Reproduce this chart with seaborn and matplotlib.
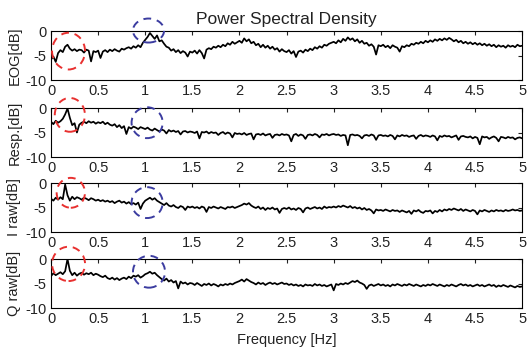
import numpy as np
import matplotlib
matplotlib.use('Agg')
import matplotlib.pyplot as plt
from matplotlib.patches import Ellipse
import seaborn as sns

# frequency grid, 0..5 Hz in 0.025 Hz steps
freq = np.linspace(0, 5, 201)

eog_db = [
    -5.8, -5.2, -6.3, -4.5, -3.9, -4.3, -3.2, -2.8, -3.6, -4.0, -3.7, -4.1, -3.8, -3.9, -4.4, -3.8, -4.0, -6.2, -4.1, -4.3,
    -4.0, -5.5, -4.2, -3.9, -4.3, -3.8, -4.1, -3.7, -4.0, -4.2, -3.6, -3.8, -3.5, -3.3, -3.6, -3.1, -3.4, -2.9, -3.3, -2.4,
    -1.8, -1.2, -0.4, -1.0, -1.6, -0.9, -2.1, -1.9, -2.6, -3.2, -3.4, -4.0, -3.7, -4.3, -3.9, -4.5, -4.1, -4.4, -5.2, -4.2,
    -4.4, -4.0, -4.6, -3.9, -4.5, -5.6, -3.8, -3.5, -3.7, -3.2, -3.4, -3.0, -3.3, -2.8, -3.1, -2.5, -2.8, -2.2, -2.6, -2.3,
    -2.0, -2.4, -1.5, -2.1, -1.7, -2.5, -2.2, -2.9, -2.6, -3.3, -2.8, -3.4, -3.0, -3.6, -3.2, -3.8, -3.5, -4.2, -3.7, -4.1,
    -4.3, -3.9, -4.6, -4.1, -5.3, -4.2, -4.0, -4.4, -3.8, -4.1, -3.6, -3.9, -3.3, -3.6, -3.1, -3.4, -2.8, -3.0, -2.6, -2.4,
    -2.2, -2.5, -1.9, -2.3, -1.6, -2.0, -1.3, -1.8, -1.5, -2.1, -1.7, -2.4, -2.0, -2.6, -2.4, -3.0, -2.7, -3.2, -4.8, -2.9,
    -3.1, -2.8, -3.3, -3.0, -3.5, -2.9, -3.2, -3.4, -4.2, -3.1, -3.3, -2.9, -3.1, -2.6, -2.8, -2.4, -2.6, -2.2, -2.5, -2.0,
    -2.3, -1.9, -2.2, -1.7, -2.0, -1.6, -1.9, -1.5, -1.8, -1.4, -1.7, -2.1, -1.8, -2.3, -2.0, -2.5, -2.2, -2.6, -2.3, -2.7,
    -2.4, -2.8, -2.5, -2.9, -2.6, -3.0, -2.7, -3.1, -2.8, -3.3, -2.9, -3.2, -3.0, -3.4, -2.9, -3.2, -3.0, -3.3, -2.8, -3.1,
    -3.0,
]

resp_db = [
    -2.8, -3.3, -2.6, -3.0, -2.7, -2.2, -1.3, -0.1, -2.0, -3.5, -3.1, -5.0, -3.4, -3.0, -2.8, -3.1, -2.7, -3.0, -2.8, -3.2,
    -2.9, -3.1, -2.8, -3.3, -3.0, -3.4, -3.6, -3.3, -3.9, -3.5, -4.1, -3.7, -5.3, -3.9, -4.2, -3.8, -4.0, -4.3, -3.9, -4.1,
    -4.3, -4.0, -4.4, -4.6, -4.2, -4.5, -4.8, -4.4, -4.6, -5.2, -4.5, -4.8, -4.6, -4.9, -4.7, -5.4, -4.8, -4.7, -5.0, -4.8,
    -4.9, -5.1, -4.8, -6.2, -4.9, -5.0, -4.8, -5.2, -4.9, -5.1, -5.0, -5.5, -5.1, -4.9, -5.3, -5.0, -5.2, -6.0, -5.1, -5.3,
    -5.2, -5.4, -5.1, -5.5, -5.3, -5.2, -6.4, -5.4, -5.3, -5.5, -5.2, -5.6, -5.4, -5.3, -6.1, -5.5, -5.4, -5.6, -5.3, -5.5,
    -5.4, -5.6, -6.8, -5.5, -5.3, -5.7, -5.4, -5.6, -6.3, -5.5, -5.4, -5.6, -5.3, -5.5, -6.0, -5.4, -5.5, -5.3, -5.6, -5.4,
    -5.3, -5.5, -5.4, -5.7, -5.5, -5.6, -7.6, -5.5, -5.4, -5.6, -5.5, -5.7, -6.2, -5.6, -5.5, -5.7, -5.4, -5.6, -6.5, -5.6,
    -5.5, -5.7, -5.6, -5.8, -5.5, -5.7, -6.4, -5.6, -5.8, -5.5, -5.7, -5.6, -5.9, -5.7, -5.6, -6.3, -5.7, -5.5, -5.8, -5.6,
    -5.7, -5.9, -5.6, -5.8, -6.6, -5.7, -5.9, -5.6, -5.8, -5.7, -6.0, -5.8, -5.6, -6.5, -5.8, -5.7, -5.9, -6.0, -5.8, -6.2,
    -5.9, -6.1, -7.4, -5.8, -6.0, -5.9, -6.3, -6.0, -5.8, -6.1, -6.8, -5.9, -6.0, -6.2, -5.9, -6.1, -6.0, -6.4, -6.1, -6.0,
    -6.2,
]

i_raw_db = [
    -3.2, -3.6, -3.0, -3.4, -2.9, -3.3, -0.3, -2.5, -3.6, -2.8, -3.3, -2.9, -3.1, -3.4, -3.0, -3.2, -3.5, -3.1, -3.3, -3.6,
    -3.4, -3.7, -3.5, -3.8, -3.6, -3.9, -3.7, -4.1, -3.8, -3.6, -4.0, -3.8, -4.2, -3.9, -4.3, -4.1, -4.4, -4.0, -5.3, -4.2,
    -3.6, -3.3, -3.0, -3.4, -3.1, -3.6, -3.9, -4.2, -4.5, -4.1, -4.6, -4.8, -4.5, -4.9, -5.1, -4.7, -4.9, -5.5, -4.8, -5.0,
    -4.8, -5.1, -4.9, -5.2, -4.8, -5.0, -5.9, -4.9, -5.1, -4.8, -5.0, -5.2, -4.9, -5.1, -5.3, -4.9, -5.0, -4.8, -5.1, -4.9,
    -4.7, -4.5, -4.2, -4.4, -4.1, -4.6, -4.9, -5.1, -4.8, -5.3, -5.0, -5.5, -5.1, -5.3, -5.0, -5.4, -5.2, -6.1, -5.3, -5.1,
    -5.3, -5.0, -5.4, -5.2, -5.5, -5.1, -5.3, -6.0, -5.2, -5.0, -5.3, -5.1, -4.9, -5.2, -5.0, -5.3, -4.8, -5.1, -4.9, -5.0,
    -4.8, -5.0, -4.7, -4.9, -4.6, -4.8, -5.0, -4.7, -5.1, -4.9, -5.2, -5.0, -5.4, -5.1, -5.5, -5.3, -5.6, -6.2, -5.4, -5.6,
    -5.5, -5.7, -5.4, -5.6, -5.8, -5.5, -5.7, -5.6, -5.9, -5.6, -5.8, -6.0, -5.7, -6.3, -5.6, -5.8, -5.5, -5.9, -6.1, -5.7,
    -5.8, -5.6, -6.2, -5.7, -5.9, -5.5, -5.8, -5.4, -5.6, -5.3, -5.5, -5.2, -5.4, -5.6, -5.3, -5.7, -5.4, -5.6, -5.8, -5.5,
    -5.7, -6.4, -5.6, -5.8, -5.5, -5.7, -5.9, -5.6, -5.8, -5.5, -5.7, -5.6, -5.8, -5.5, -5.7, -5.6, -5.4, -5.6, -5.5, -5.7,
    -5.6,
]

q_raw_db = [
    -3.5, -2.9, -3.3, -3.0, -2.7, -3.1, -2.5, 0.0, -2.4, -3.3, -2.8, -3.4, -3.0, -2.8, -3.2, -2.9, -3.1, -2.8, -3.3, -3.0,
    -3.2, -3.5, -3.7, -3.4, -3.9, -4.1, -3.8, -4.2, -3.9, -4.3, -4.0, -3.8, -4.1, -3.6, -3.9, -3.4, -3.6, -3.3, -3.8, -3.5,
    -3.1, -2.9, -2.6, -3.0, -2.8, -3.3, -3.7, -4.1, -4.4, -4.0, -4.6, -4.3, -4.8, -4.5, -6.0, -4.6, -5.0, -4.8, -5.2, -4.9,
    -5.0, -5.3, -4.9, -5.2, -5.5, -5.1, -5.3, -5.0, -5.4, -5.1, -5.3, -5.6, -5.2, -5.4, -5.1, -5.3, -5.0, -5.2, -4.9, -4.7,
    -4.5, -4.2, -4.6, -4.1, -4.4, -4.7, -4.9, -5.2, -4.8, -5.1, -4.9, -5.3, -5.0, -4.8, -5.1, -4.9, -5.2, -5.0, -4.8, -5.1,
    -5.0, -5.3, -5.1, -5.4, -5.2, -5.5, -5.3, -5.6, -5.2, -5.4, -5.3, -5.5, -5.1, -5.4, -5.2, -5.5, -5.3, -5.6, -5.4, -5.2,
    -6.4, -5.1, -5.3, -5.0, -5.2, -4.9, -5.1, -4.8, -4.5, -4.7, -4.4, -4.8, -5.0, -5.3, -6.1, -5.4, -5.2, -5.5, -5.3, -5.1,
    -5.4, -5.2, -5.5, -5.3, -5.6, -5.2, -5.4, -5.1, -5.3, -5.5, -5.2, -5.4, -5.1, -5.3, -5.5, -5.2, -5.4, -5.6, -5.3, -5.5,
    -5.2, -5.4, -5.1, -5.3, -5.5, -5.2, -5.4, -5.6, -5.3, -5.5, -5.2, -5.4, -5.6, -5.3, -5.1, -5.4, -5.2, -5.5, -5.3, -5.6,
    -5.4, -5.2, -5.5, -5.3, -5.6, -5.4, -5.2, -5.5, -5.3, -5.7, -5.4, -5.6, -5.3, -5.5, -5.7, -5.4, -5.6, -5.8, -5.5, -5.7,
    -5.6,
]

panel_labels = ["EOG[dB]", "Resp.[dB]", "I raw[dB]", "Q raw[dB]"]
series = [eog_db, resp_db, i_raw_db, q_raw_db]

# highlighted regions: (x, y, width, height) in data units
red_marks = [(0.186, -4.1, 0.35, 7.5), (0.20, -1.4, 0.32, 6.9), (0.21, -2.0, 0.30, 6.1), (0.186, -1.0, 0.35, 7.0)]
blue_marks = [(1.035, 0.1, 0.33, 4.9), (1.02, -3.0, 0.33, 6.3), (1.02, -4.0, 0.33, 6.3), (1.04, -2.6, 0.34, 6.5)]

sns.set_style("white")
plt.rcParams['font.family'] = ['Liberation Sans', 'DejaVu Sans']

fig = plt.figure(figsize=(5.27, 3.51), dpi=100)
bottoms = [0.772, 0.5527, 0.339, 0.1225]
txt = '#222222'

for i in range(4):
    ax = fig.add_axes([0.0968, bottoms[i], 0.894, 0.1396])
    sns.lineplot(x=freq, y=series[i], ax=ax, color='black', lw=1.25)
    ax.set_xlim(0, 5)
    ax.set_ylim(-10, 0)
    ax.set_xticks(np.arange(0, 5.01, 0.5))
    ax.set_xticklabels(['0', '0.5', '1', '1.5', '2', '2.5', '3', '3.5', '4', '4.5', '5'])
    ax.set_yticks([0, -5, -10])
    ax.set_yticklabels(['0', '-5', '-10'])
    ax.tick_params(direction='in', length=3, width=0.8, top=True, right=True,
                   labelsize=10.5, colors=txt, pad=3)
    ax.tick_params(axis='both', labelcolor=txt)
    for s in ax.spines.values():
        s.set_color('black')
        s.set_linewidth(0.8)
    ax.set_ylabel(panel_labels[i], fontsize=10.5, color=txt, labelpad=3)
    for (cx, cy, w, h), col in [(red_marks[i], '#e8302f'), (blue_marks[i], '#3b3ca0')]:
        e = Ellipse((cx, cy), w, h, fill=False, edgecolor=col, lw=1.4,
                    linestyle=(0, (4, 3)), clip_on=False, zorder=5)
        ax.add_patch(e)
    if i == 0:
        ax.set_title("Power Spectral Density", fontsize=12.5, color=txt, pad=5)
    if i == 3:
        ax.set_xlabel("Frequency [Hz]", fontsize=10.5, color=txt, labelpad=5)

fig.savefig("out.png", dpi=100)
